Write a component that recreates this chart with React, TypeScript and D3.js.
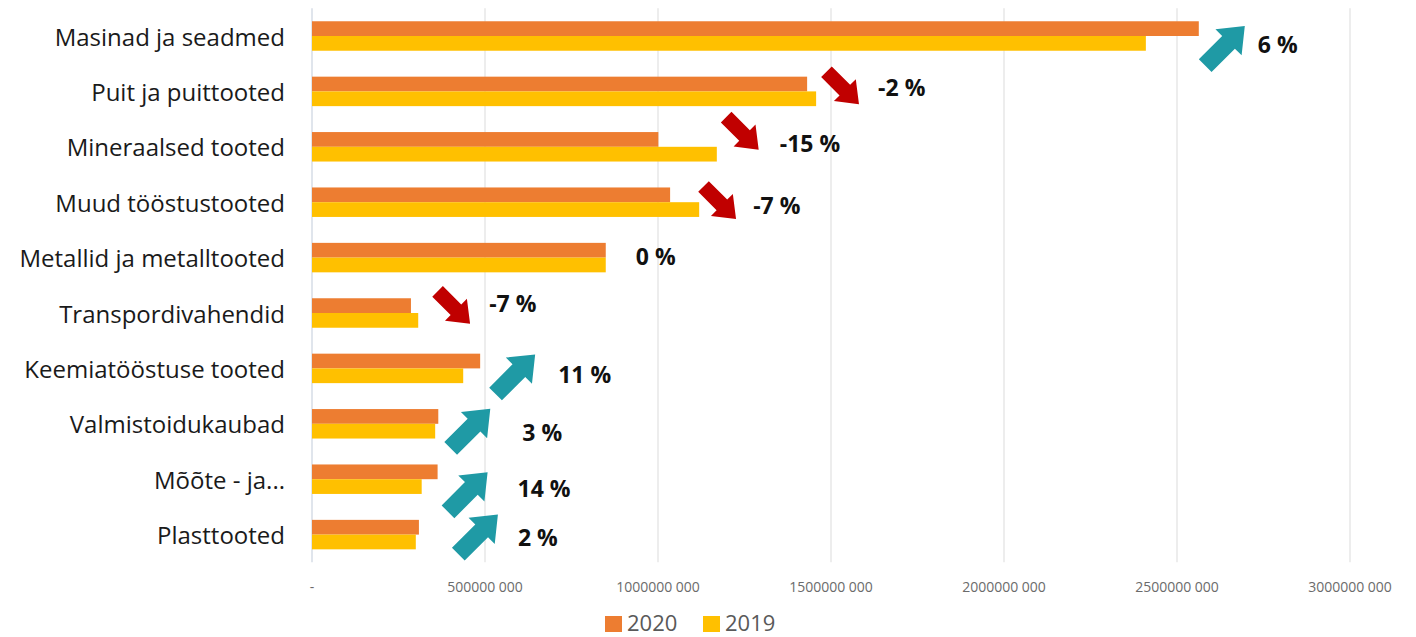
import React from 'react';
import * as d3 from 'd3';

// categories, top to bottom
const categories = [
  'Masinad ja seadmed',
  'Puit ja puittooted',
  'Mineraalsed tooted',
  'Muud tööstustooted',
  'Metallid ja metalltooted',
  'Transpordivahendid',
  'Keemiatööstuse tooted',
  'Valmistoidukaubad',
  'Mõõte - ja...',
  'Plasttooted',
];

const values2020 = [
  2563e6, 1431e6, 1001e6, 1035e6, 849e6, 286e6, 486e6, 365e6, 363e6, 309e6,
];
const values2019 = [
  2410e6, 1457e6, 1170e6, 1119e6, 849e6, 307e6, 437e6, 356e6, 317e6, 300e6,
];

const changeLabels = ['6 %', '-2 %', '-15 %', '-7 %', '0 %', '-7 %', '11 %', '3 %', '14 %', '2 %'];
// 1 = up, -1 = down, 0 = no arrow
const changeDirection = [1, -1, -1, -1, 0, -1, 1, 1, 1, 1];

const xTicks = [0, 500e6, 1000e6, 1500e6, 2000e6, 2500e6, 3000e6];
const tickLabels = ['-', '500000 000', '1000000 000', '1500000 000', '2000000 000', '2500000 000', '3000000 000'];

const seriesNames = ['2020', '2019'];
const seriesColors = ['#ED7D31', '#FFC000'];

// annotation placement: offsets (px) from the longer bar end / category centre
const annotationLayout = [
  {ax: 23, ay: 13, lx: 59, ly: 8},
  {ax: 24, ay: -6, lx: 62, ly: -4},
  {ax: 23, ay: -16, lx: 63, ly: -4},
  {ax: 18, ay: -2, lx: 54, ly: 3},
  {ax: 0, ay: 0, lx: 30, ly: -2},
  {ax: 33, ay: -8, lx: 71, ly: -10},
  {ax: 32, ay: 9, lx: 78, ly: 6},
  {ax: 29, ay: 8, lx: 84, ly: 8},
  {ax: 27, ay: 16, lx: 80, ly: 9},
  {ax: 56, ay: 3, lx: 99, ly: 2},
];

const W = 1416;
const H = 637;
const FONT = '"Open Sans", sans-serif';

function arrowPath(L: number, sw: number, hw: number, hl: number) {
  const a = -L / 2;
  const b = L / 2 - hl;
  const t = L / 2;
  return `M${a},${-sw}L${b},${-sw}L${b},${-hw}L${t},0L${b},${hw}L${b},${sw}L${a},${sw}Z`;
}

export default function App() {
  const x = d3.scaleLinear().domain([0, 3000e6]).range([312, 1350]);
  const y = d3.scaleBand<string>()
      .domain(categories)
      .range([8.3, 562.3])
      .padding(0);
  const step = y.step();
  const barH = step * 0.266;

  const upArrow = arrowPath(56, 9, 18.5, 23);
  const downArrow = arrowPath(46, 7.5, 15.5, 20);

  return (
    <svg width={W} height={H} style={{position: 'absolute', left: 0, top: 0, background: '#fff'}}>
      <rect width={W} height={H} fill="#fff" />
      {/* grid */}
      <g>
        {xTicks.map((t, i) => (
          <line key={i} x1={x(t)} x2={x(t)} y1={y.range()[0]} y2={y.range()[1]}
            stroke={i === 0 ? '#D0D7E2' : '#E3E3E3'} strokeWidth={1.3} />
        ))}
      </g>
      {/* tick labels */}
      <g fontFamily={FONT} fontSize={14} fill="#6B6B6B">
        {xTicks.map((t, i) => (
          <text key={i} x={x(t)} y={586} textAnchor="middle" dominantBaseline="central">
            {tickLabels[i]}
          </text>
        ))}
      </g>
      {/* bars */}
      <g>
        {categories.map((c, i) => {
          const cy = (y(c) as number) + step / 2;
          return (
            <g key={c}>
              <rect x={x(0)} y={cy - barH} width={x(values2020[i]) - x(0)} height={barH}
                fill={seriesColors[0]} />
              <rect x={x(0)} y={cy} width={x(values2019[i]) - x(0)} height={barH}
                fill={seriesColors[1]} />
            </g>
          );
        })}
      </g>
      {/* category labels */}
      <g fontFamily={FONT} fontSize={24} fill="#1A1A1A">
        {categories.map((c) => (
          <text key={c} x={285} y={(y(c) as number) + step / 2} textAnchor="end"
            dominantBaseline="central">
            {c}
          </text>
        ))}
      </g>
      {/* change annotations */}
      <g>
        {categories.map((c, i) => {
          const cy = (y(c) as number) + step / 2;
          const end = x(Math.max(values2020[i], values2019[i]));
          const lay = annotationLayout[i];
          const dir = changeDirection[i];
          return (
            <g key={c}>
              {dir !== 0 && (
                <path
                  d={dir > 0 ? upArrow : downArrow}
                  fill={dir > 0 ? '#1F9AA5' : '#C00000'}
                  transform={`translate(${end + lay.ax + (dir > 0 ? 3.2 : 2.6)},${cy + lay.ay + (dir > 0 ? -3.2 : 2.6)}) rotate(${dir > 0 ? -45 : 45})`}
                />
              )}
              <text x={end + lay.lx} y={cy + lay.ly} fontFamily={FONT} fontWeight="bold"
                fontSize={23} fill="#111" dominantBaseline="central">
                {changeLabels[i]}
              </text>
            </g>
          );
        })}
      </g>
      {/* legend */}
      <g fontFamily={FONT} fontSize={22} fill="#595959">
        {seriesNames.map((s, i) => (
          <g key={s} transform={`translate(${605 + i * 98},0)`}>
            <rect x={0} y={616} width={17} height={16} fill={seriesColors[i]} />
            <text x={22} y={631}>{s}</text>
          </g>
        ))}
      </g>
    </svg>
  );
}
